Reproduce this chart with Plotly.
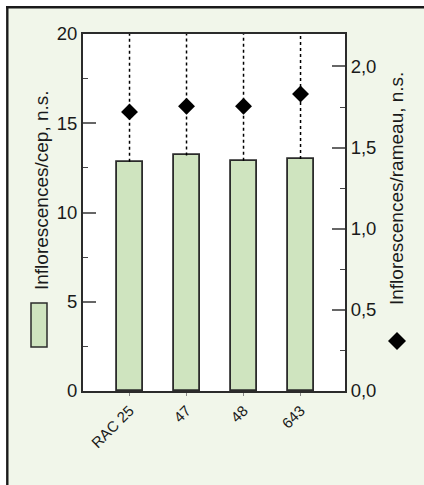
import plotly.graph_objects as go

categories = ["RAC 25", "47", "48", "643"]
infl_cep = [12.85, 13.2, 12.9, 13.0]
infl_rameau = [1.72, 1.755, 1.755, 1.83]
left_title = "Inflorescences/cep, n.s."
right_title = "Inflorescences/rameau, n.s."

W, H = 424, 485
L, R, T, B = 83, 345, 34, 391
FONT = "Liberation Sans, Arial, sans-serif"
BAR = "#cfe4bf"
BG = "#f1f6ea"
DARK = "#2b2b2b"

def px(x):
    return (x - L) / (R - L)

def py(y):
    return (B - y) / (B - T)

fig = go.Figure()

lx, ly = [], []
for c, v in zip(categories, infl_cep):
    lx += [c, c, None]
    ly += [v, 20, None]
fig.add_trace(go.Scatter(x=lx, y=ly, mode="lines",
                         line=dict(color="black", width=1.5, dash="dot"),
                         hoverinfo="skip", showlegend=False))

fig.add_trace(go.Bar(x=categories, y=infl_cep, width=0.456,
                     marker=dict(color=BAR, line=dict(color=DARK, width=1.8)),
                     showlegend=False))

fig.add_trace(go.Scatter(x=categories, y=infl_rameau, yaxis="y2", mode="markers",
                         marker=dict(symbol="diamond", size=13, color="black"),
                         showlegend=False))

fig.update_layout(
    width=W, height=H,
    margin=dict(l=L, r=W - R, t=T, b=H - B, pad=0),
    paper_bgcolor=BG, plot_bgcolor="white",
    separators=", ",
    font=dict(family=FONT, color="#1a1a1a"),
    bargap=0,
    xaxis=dict(type="category", range=[-0.816, 3.78], showline=True, mirror=True,
               linecolor=DARK, linewidth=2, ticks="outside", ticklen=3,
               tickcolor="#888", tickangle=-45, tickfont=dict(size=15),
               showgrid=False, zeroline=False),
    yaxis=dict(range=[0, 20], dtick=5, ticks="inside", ticklen=13, tickwidth=1.5,
               tickcolor="#666", showline=True, linecolor=DARK, linewidth=2,
               tickfont=dict(size=18.5), showgrid=False, zeroline=False,
               minor=dict(dtick=2.5, ticks="inside", ticklen=5, tickcolor="#444",
                          tickwidth=1, showgrid=False)),
    yaxis2=dict(range=[0, 2.2], dtick=0.5, tickformat=".1f", overlaying="y",
                side="right", ticks="inside", ticklen=13, tickwidth=1.5,
                tickcolor="#666", showline=True, linecolor=DARK, linewidth=2,
                tickfont=dict(size=18.5), showgrid=False, zeroline=False,
                minor=dict(dtick=0.25, ticks="inside", ticklen=5, tickcolor="#444",
                           tickwidth=1, showgrid=False)),
)

shapes = [
    dict(type="rect", xref="paper", yref="paper", layer="below",
         x0=px(0), x1=px(6.5), y0=py(485), y1=py(0),
         fillcolor="white", line=dict(width=0)),
    dict(type="rect", xref="paper", yref="paper", layer="below",
         x0=px(0), x1=px(424), y0=py(6.5), y1=py(0),
         fillcolor="white", line=dict(width=0)),
    dict(type="rect", xref="paper", yref="paper",
         x0=px(6.1), x1=px(8.5), y0=py(485), y1=py(6.1),
         fillcolor="#1a1a1a", line=dict(width=0)),
    dict(type="rect", xref="paper", yref="paper",
         x0=px(6.1), x1=px(424), y0=py(8.5), y1=py(6.1),
         fillcolor="#1a1a1a", line=dict(width=0)),
    dict(type="rect", xref="paper", yref="paper",
         x0=px(31), x1=px(47), y0=py(347), y1=py(303),
         fillcolor=BAR, line=dict(color=DARK, width=1.5)),
    dict(type="path", xref="paper", yref="paper", xsizemode="pixel", ysizemode="pixel",
         xanchor=px(397), yanchor=py(341),
         path="M 0 9 L 9 0 L 0 -9 L -9 0 Z", fillcolor="black", line=dict(width=0)),
]
fig.update_layout(shapes=shapes)

# top frame line as a filled annotation box as well
fig.add_annotation(text=" ", xref="paper", yref="paper", x=px(6.1), y=py(7.3),
                   xanchor="left", yanchor="middle", showarrow=False,
                   width=418, height=2, borderpad=0, borderwidth=0,
                   bgcolor="#1a1a1a", font=dict(size=1))

fig.add_annotation(text=left_title, xref="paper", yref="paper", x=px(41), y=py(190),
                   textangle=-90, showarrow=False, font=dict(size=19),
                   xanchor="center", yanchor="middle")
fig.add_annotation(text=right_title, xref="paper", yref="paper", x=px(396), y=py(189),
                   textangle=-90, showarrow=False, font=dict(size=19),
                   xanchor="center", yanchor="middle")

fig.write_html("out.html", config={"displayModeBar": False},
               post_script="document.body.style.margin='0px';document.body.style.overflow='hidden';")
